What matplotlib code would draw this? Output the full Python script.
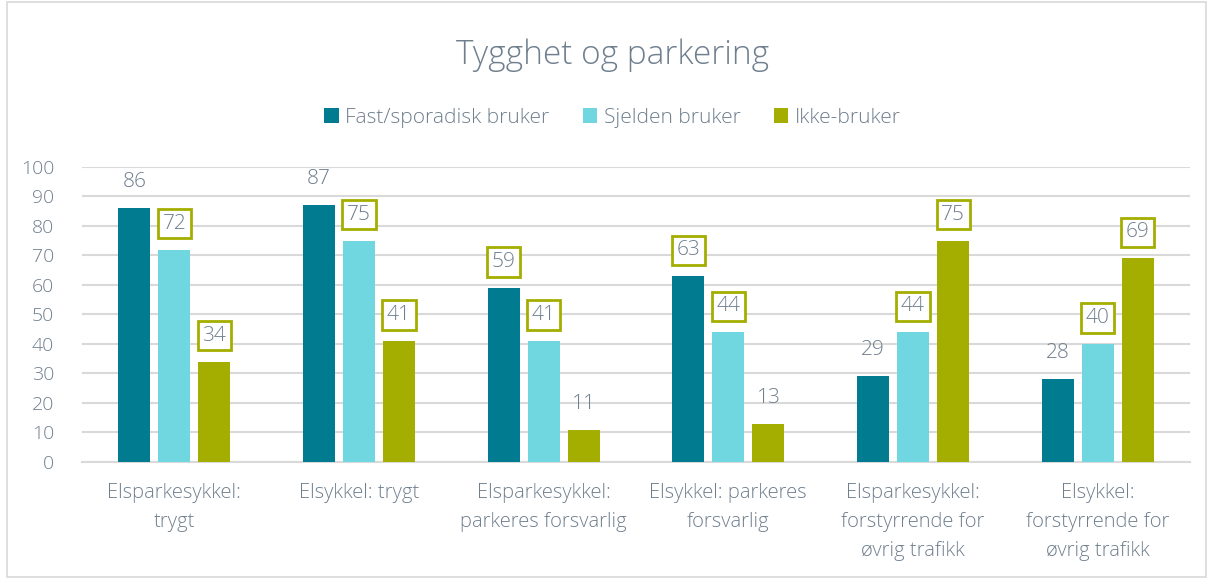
import numpy as np
import matplotlib.pyplot as plt
from matplotlib.patches import Rectangle

categories = ["Elsparkesykkel:\ntrygt", "Elsykkel: trygt",
              "Elsparkesykkel:\nparkeres forsvarlig", "Elsykkel: parkeres\nforsvarlig",
              "Elsparkesykkel:\nforstyrrende for\nøvrig trafikk",
              "Elsykkel:\nforstyrrende for\nøvrig trafikk"]
series_names = ["Fast/sporadisk bruker", "Sjelden bruker", "Ikke-bruker"]
fast = [86, 87, 59, 63, 29, 28]
sjelden = [72, 75, 41, 44, 44, 40]
ikke = [34, 41, 11, 13, 75, 69]
# which data labels get the olive box
boxed_fast = [False, False, True, True, False, False]
boxed_sjelden = [True, True, True, True, True, True]
boxed_ikke = [True, True, False, False, True, True]

colors = ["#007B8F", "#70D6E0", "#A3AE00"]
text_col = "#6F7F8E"

plt.rcParams['font.family'] = ['Open Sans', 'DejaVu Sans']
plt.rcParams['font.weight'] = 'light'

fig = plt.figure(figsize=(12.13, 5.79), dpi=100)
# outer chart border
fig.patches.append(Rectangle((0.006, 0.003), 0.988, 0.994, transform=fig.transFigure,
                             fill=False, edgecolor="#D9D9D9", linewidth=1.2))
ax = fig.add_axes([0.0676, 0.2021, 0.9134, 0.5095])

x = np.arange(len(categories))
w = 0.173
step = 0.217
all_series = [fast, sjelden, ikke]
all_boxed = [boxed_fast, boxed_sjelden, boxed_ikke]
for i, (vals, boxed) in enumerate(zip(all_series, all_boxed)):
    pos = x + (i - 1) * step
    ax.bar(pos, vals, width=w, color=colors[i], label=series_names[i], zorder=3)
    for p, v, b in zip(pos, vals, boxed):
        if b:
            ax.text(p, v + 8.8, str(v), ha="center", va="center", fontsize=15,
                    color=text_col, zorder=4,
                    bbox=dict(boxstyle="square,pad=0.22", facecolor="white",
                              edgecolor="#A3AE00", linewidth=2))
        else:
            ax.text(p, v + 8.8, str(v), ha="center", va="center", fontsize=15,
                    color=text_col, zorder=4)

ax.set_xlim(-0.5, len(categories) - 0.5)
ax.set_ylim(0, 100)
ax.set_yticks(range(0, 101, 10))
ax.yaxis.grid(True, color="#D9D9D9", linewidth=1.5, zorder=0)
ax.set_xticks(x)
ax.set_xticklabels(categories, fontsize=14.5, color=text_col, linespacing=1.62)
ax.tick_params(axis="y", labelsize=14, labelcolor=text_col, length=0, pad=20)
ax.tick_params(axis="x", length=0, pad=15)
for s in ["top", "right", "left"]:
    ax.spines[s].set_visible(False)
ax.spines["bottom"].set_color("#D9D9D9")
ax.spines["bottom"].set_linewidth(1.5)

fig.text(0.505, 0.905, "Tygghet og parkering", ha="center", va="center",
         fontsize=24, color=text_col)
fig.legend(loc="center", bbox_to_anchor=(0.505, 0.797), ncol=3, frameon=False,
           fontsize=15, labelcolor=text_col, handlelength=0.7, handleheight=0.7,
           handletextpad=0.3, columnspacing=1.6)

fig.savefig("out.png", dpi=100)
